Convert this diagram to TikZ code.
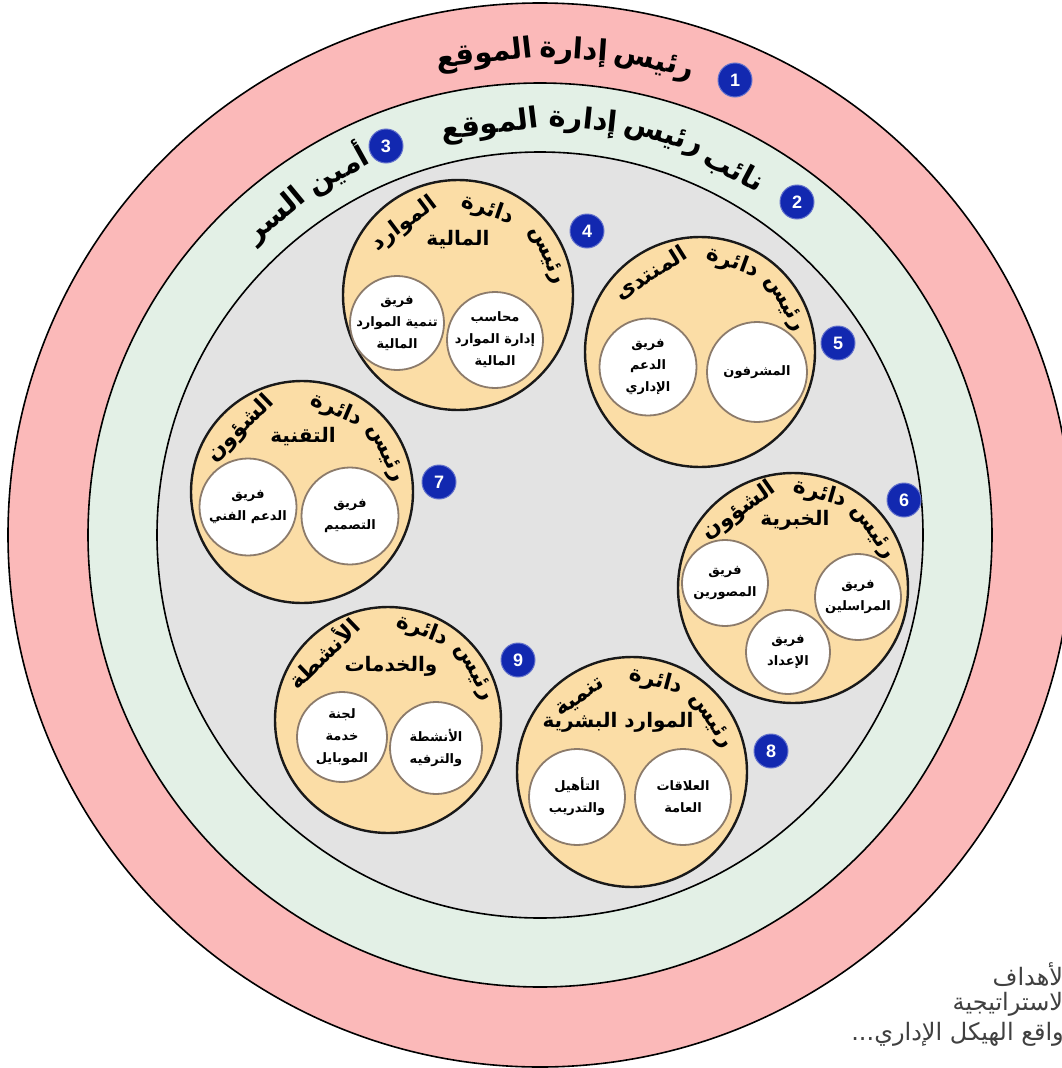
\documentclass[tikz,border=0pt]{standalone}
\usepackage{fontspec}
\newfontfamily\arabicfont[Script=Arabic]{DejaVu Sans}
\newfontfamily\numfont{Liberation Sans}
\TeXXeTstate=1
\usetikzlibrary{calc}

\definecolor{ringpink}{HTML}{FBB9B9}
\definecolor{ringgreen}{HTML}{E3F0E6}
\definecolor{ringgray}{HTML}{E3E3E3}
\definecolor{deptyellow}{HTML}{FBDDA6}
\definecolor{badgeblue}{HTML}{1228B0}
\definecolor{teamedge}{HTML}{8C7B6B}

\newcommand{\artxt}[1]{\beginR #1\endR}
% one word of a curved title: [style]{centre}{angle}{radius}{name}{word}
\newcommand{\arcword}[6][deptw]{%
  \node[#1, rotate=#3-90] (#5) at ($(#2)+({#4*cos(#3)},{-#4*sin(#3)})$) {\artxt{#6}};}

\begin{document}
\begin{tikzpicture}[
  x=1pt, y=-1pt,
  ring/.style={circle, draw=black, line width=1.6pt, inner sep=0},
  dept/.style={circle, draw=black!90, line width=2.4pt, fill=deptyellow, inner sep=0},
  team/.style={circle, draw=teamedge, line width=1.8pt, fill=white, inner sep=0},
  teamtxt/.style={align=center, inner sep=0,
                  font=\arabicfont\bfseries\fontsize{13}{22}\selectfont},
  badge/.style={circle, fill=badgeblue, draw=badgeblue!65!white, line width=1pt,
                text=white, minimum size=34pt, inner sep=0,
                font=\numfont\bfseries\fontsize{18}{18}\selectfont},
  ringw/.style={inner sep=0, font=\arabicfont\bfseries\fontsize{29}{31}\selectfont},
  deptw/.style={inner sep=0, font=\arabicfont\bfseries\fontsize{22}{24}\selectfont},
  deptl/.style={inner sep=0, font=\arabicfont\bfseries\fontsize{20}{22}\selectfont},
  note/.style={inner sep=0, anchor=east, text=black!75,
               font=\arabicfont\fontsize{24}{28}\selectfont},
]
\useasboundingbox (0,0) rectangle (1062,1068);
\fill[white] (0,0) rectangle (1062,1068);

% rings
\coordinate (ctr) at (540,535);
\node[ring, fill=ringpink, minimum size=1064pt] (outer) at (ctr) {};
\node[ring, fill=ringgreen, minimum size=904pt] (middle) at (ctr) {};
\node[ring, fill=ringgray, minimum size=766pt] (inner) at (ctr) {};

\arcword[ringw]{ctr}{76.4}{485}{r1a}{رئيس}
\arcword[ringw]{ctr}{86.0}{485}{r1b}{إدارة}
\arcword[ringw]{ctr}{96.6}{483}{r1c}{الموقع}

\arcword[ringw]{ctr}{62.0}{413}{r2a}{نائب}
\arcword[ringw]{ctr}{72.8}{417}{r2b}{رئيس}
\arcword[ringw]{ctr}{84.0}{416}{r2c}{إدارة}
\arcword[ringw]{ctr}{97.0}{412}{r2d}{الموقع}

\arcword[ringw]{ctr}{119.0}{418}{r3a}{أمين}
\arcword[ringw]{ctr}{129.6}{414}{r3b}{السر}

% departments
\node[dept, minimum size=230pt] (d4) at (458,295) {};
\node[dept, minimum size=230pt] (d5) at (700,352) {};
\node[dept, minimum size=222pt] (d7) at (302,492) {};
\node[dept, minimum size=230pt] (d6) at (793,588) {};
\node[dept, minimum size=226pt] (d9) at (388,720) {};
\node[dept, minimum size=230pt] (d8) at (632,772) {};

\arcword{d4}{24}{97}{d4a}{رئيس}
\arcword{d4}{71}{90}{d4b}{دائرة}
\arcword{d4}{127}{89}{d4c}{الموارد}
\node[deptl] (d4s) at (458,240) {\artxt{المالية}};

\arcword{d5}{30}{97}{d5a}{رئيس}
\arcword{d5}{70}{95}{d5b}{دائرة}
\arcword{d5}{122}{93}{d5c}{المنتدى}

\arcword{d7}{25}{92}{d7a}{رئيس}
\arcword{d7}{67}{89}{d7b}{دائرة}
\arcword{d7}{134}{88}{d7c}{الشؤون}
\node[deptl] (d7s) at (303,437) {\artxt{التقنية}};

\arcword{d6}{35}{97}{d6a}{رئيس}
\arcword{d6}{74}{98}{d6b}{دائرة}
\arcword{d6}{125}{94}{d6c}{الشؤون}
\node[deptl] (d6s) at (795,520) {\artxt{الخبرية}};

\arcword{d9}{29}{98}{d9a}{رئيس}
\arcword{d9}{69}{96}{d9b}{دائرة}
\arcword{d9}{134}{94}{d9c}{الأنشطة}
\node[deptl] (d9s) at (391,666) {\artxt{والخدمات}};

\arcword{d8}{33}{94}{d8a}{رئيس}
\arcword{d8}{75}{94}{d8b}{دائرة}
\arcword{d8}{125}{90}{d8c}{تنمية}
\node[deptl] (d8s) at (618,722) {\artxt{الموارد البشرية}};

% teams
\node[team, minimum size=94pt, label={[teamtxt]center:{\artxt{فريق}\\ \beginR تنمية الموارد\endR\\ \artxt{المالية}}}] (t4a) at (397,323) {};
\node[team, minimum size=96pt, label={[teamtxt]center:{\artxt{محاسب}\\ \beginR إدارة الموارد\endR\\ \artxt{المالية}}}] (t4b) at (495,340) {};
\node[team, minimum size=97pt, label={[teamtxt]center:{\artxt{فريق}\\ \artxt{الدعم}\\ \artxt{الإداري}}}] (t5a) at (648,367) {};
\node[team, minimum size=100pt, label={[teamtxt]center:{\artxt{المشرفون}}}] (t5b) at (757,372) {};
\node[team, minimum size=97pt, label={[teamtxt]center:{\artxt{فريق}\\ \beginR الدعم الفني\endR}}] (t7a) at (248,507) {};
\node[team, minimum size=97pt, label={[teamtxt]center:{\artxt{فريق}\\ \artxt{التصميم}}}] (t7b) at (350,516) {};
\node[team, minimum size=86pt, label={[teamtxt]center:{\artxt{فريق}\\ \artxt{المصورين}}}] (t6a) at (725,583) {};
\node[team, minimum size=86pt, label={[teamtxt]center:{\artxt{فريق}\\ \artxt{المراسلين}}}] (t6b) at (858,597) {};
\node[team, minimum size=84pt, label={[teamtxt]center:{\artxt{فريق}\\ \artxt{الإعداد}}}] (t6c) at (788,652) {};
\node[team, minimum size=90pt, label={[teamtxt]center:{\artxt{لجنة}\\ \artxt{خدمة}\\ \artxt{الموبايل}}}] (t9a) at (342,737) {};
\node[team, minimum size=92pt, label={[teamtxt]center:{\artxt{الأنشطة}\\ \artxt{والترفيه}}}] (t9b) at (436,748) {};
\node[team, minimum size=96pt, label={[teamtxt]center:{\artxt{التأهيل}\\ \artxt{والتدريب}}}] (t8a) at (577,797) {};
\node[team, minimum size=96pt, label={[teamtxt]center:{\artxt{العلاقات}\\ \artxt{العامة}}}] (t8b) at (683,797) {};

% numbers
\node[badge] (b1) at (735,80) {1};
\node[badge] (b2) at (797,202) {2};
\node[badge] (b3) at (386,146) {3};
\node[badge] (b4) at (587,231) {4};
\node[badge] (b5) at (838,343) {5};
\node[badge] (b6) at (904,500) {6};
\node[badge] (b7) at (439,482) {7};
\node[badge] (b8) at (771,751) {8};
\node[badge] (b9) at (518,660) {9};

% cut-off caption
\node[note] (n1) at (1070,975) {\artxt{الأهداف}};
\node[note] (n2) at (1070,1004) {\artxt{الاستراتيجية}};
\node[note] (n3) at (1064,1034) {\artxt{واقع الهيكل الإداري...}};
\end{tikzpicture}
\end{document}
